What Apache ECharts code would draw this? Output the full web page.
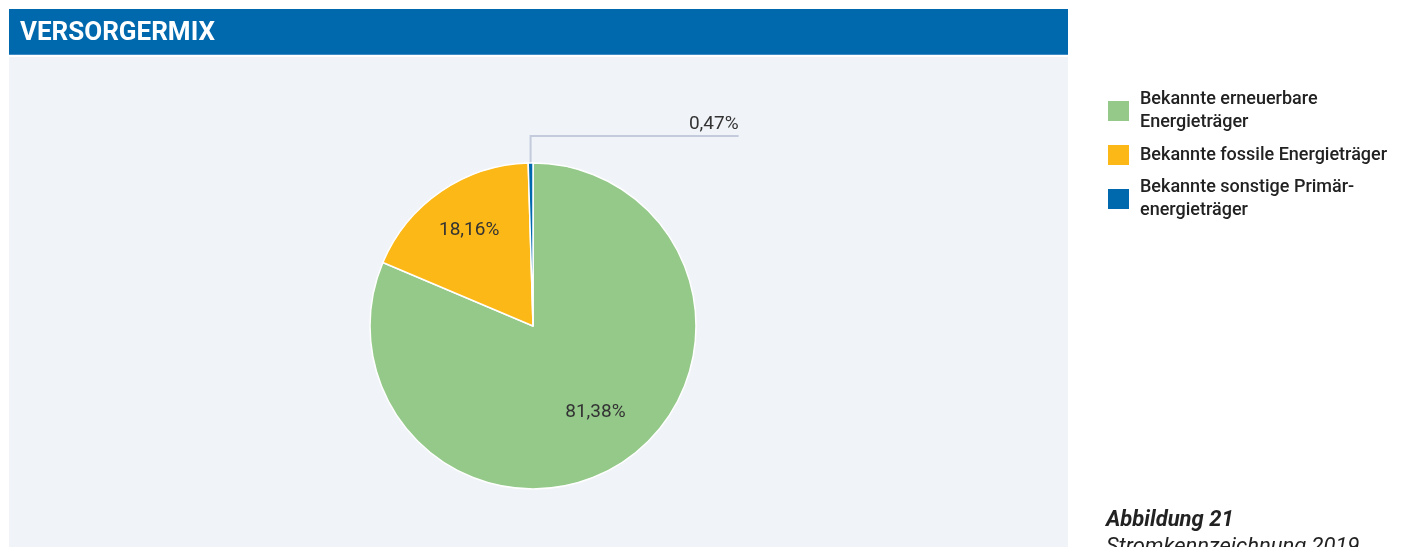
<!DOCTYPE html>
<html>
<head>
<meta charset="utf-8">
<script src="https://cdn.jsdelivr.net/npm/echarts@6/dist/echarts.min.js"></script>
<style>
html,body{margin:0;padding:0;background:#fff;}
#chart{width:1403px;height:547px;}
</style>
</head>
<body>
<div id="chart"></div>
<script>
const categories = ['Bekannte erneuerbare Energieträger', 'Bekannte fossile Energieträger', 'Bekannte sonstige Primärenergieträger'];
const legendLabels = ['Bekannte erneuerbare\nEnergieträger', 'Bekannte fossile Energieträger', 'Bekannte sonstige Primär-\nenergieträger'];
const values = [81.38, 18.16, 0.47];
const valueLabels = ['81,38%', '18,16%', '0,47%'];
const colors = ['#94C98A', '#FCB817', '#0069AD'];
const titleText = 'VERSORGERMIX';
const captionTitle = 'Abbildung 21';
const captionText = 'Stromkennzeichnung 2019';

const chart = echarts.init(document.getElementById('chart'), null, {renderer: 'canvas'});
const FONT = 'Roboto, "Liberation Sans", sans-serif';
const center = [533, 326];
const R = 163;
const insideOffsets = [[0, -8], [0, -2], [0, 0]];

const option = {
  animation: false,
  backgroundColor: '#ffffff',
  graphic: [
    {type: 'rect', shape: {x: 9, y: 9, width: 1059, height: 45}, style: {fill: '#0069AD'}, z: -10},
    {type: 'rect', shape: {x: 9, y: 54, width: 1059, height: 1}, style: {fill: '#3F8BC4'}, z: -10},
    {type: 'rect', shape: {x: 9, y: 57, width: 1059, height: 500}, style: {fill: '#F0F3F8'}, z: -10},
    {type: 'text', left: 20, top: 20, style: {text: titleText, fill: '#ffffff', font: 'bold 26px ' + FONT}},
    {type: 'text', left: 1106, top: 509, style: {text: captionTitle, fill: '#222', font: 'italic bold 22px ' + FONT}},
    {type: 'text', left: 1106, top: 536, style: {text: captionText, fill: '#222', font: 'italic 22px ' + FONT}}
  ],
  legend: {
    orient: 'vertical',
    left: 1106,
    top: 88,
    padding: 0,
    itemWidth: 23,
    itemHeight: 22,
    itemGap: 9,
    icon: 'rect',
    data: categories,
    formatter: function (name) { return legendLabels[categories.indexOf(name)]; },
    textStyle: {fontFamily: FONT, fontSize: 18, fontWeight: 500, color: '#222', lineHeight: 23, padding: [0, 0, 0, 5]}
  },
  series: [
    {
      type: 'pie',
      center: center,
      radius: [0, R],
      startAngle: 90,
      clockwise: true,
      data: categories.map((c, i) => ({
        name: c, value: values[i], itemStyle: {color: colors[i]},
        label: {show: i === 2},
        labelLine: {show: i === 2}
      })),
      itemStyle: {borderColor: '#ffffff', borderWidth: 1.5},
      label: {
        formatter: function (p) { return valueLabels[p.dataIndex]; },
        position: 'outside',
        fontFamily: FONT, fontSize: 19, color: '#333'
      },
      labelLine: {length: 27, length2: 200, smooth: false, lineStyle: {color: '#C3CBDC', width: 2}},
      labelLayout: function (params) {
        if (params.dataIndex !== 2 || !params.labelLinePoints) return {};
        const p0 = params.labelLinePoints[0];
        const p1 = [p0[0], p0[1] - 27];
        const p2 = [p0[0] + 208, p0[1] - 27];
        return {
          x: p2[0],
          y: p2[1] - 2,
          align: 'right',
          verticalAlign: 'bottom',
          labelLinePoints: [p0, p1, p2]
        };
      },
      emphasis: {disabled: true}
    },
    {
      type: 'pie',
      center: center,
      radius: [0, 220],
      startAngle: 90,
      clockwise: true,
      silent: true,
      legendHoverLink: false,
      data: categories.map((c, i) => ({
        name: c, value: values[i], itemStyle: {color: 'rgba(0,0,0,0)'},
        label: {show: i !== 2, offset: insideOffsets[i]}
      })),
      label: {
        position: 'inside',
        formatter: function (p) { return valueLabels[p.dataIndex]; },
        fontFamily: FONT, fontSize: 19, color: '#333'
      },
      labelLine: {show: false},
      emphasis: {disabled: true}
    }
  ]
};
chart.setOption(option);
</script>
</body>
</html>
